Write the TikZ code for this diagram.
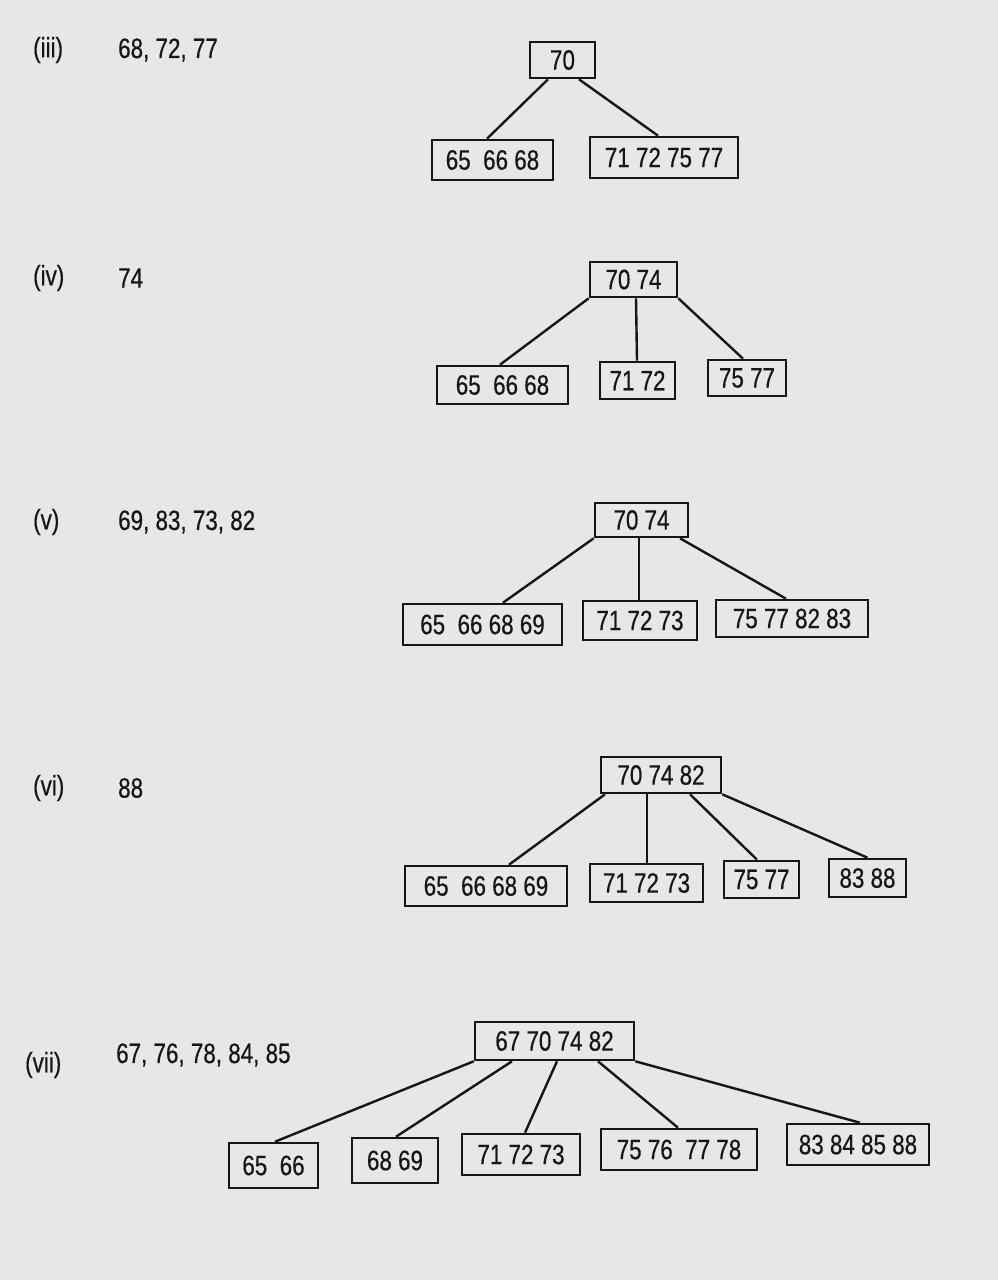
\documentclass[tikz,border=0pt]{standalone}
\usepackage{fontspec}
\setmainfont{Liberation Sans}[FakeStretch=0.8,FakeBold=0.5]
\usetikzlibrary{calc}
\definecolor{paper}{HTML}{E7E7E5}
\definecolor{ink}{HTML}{161616}
\tikzset{
 keybox/.style={draw=ink,line width=2.6pt,inner sep=0pt,text=ink},
 treeline/.style={draw=ink,line width=2.4pt},
 steplabel/.style={anchor=west,inner sep=0pt,text=ink}
}

\begin{document}
\begin{tikzpicture}[x=1pt,y=-1pt,font=\fontsize{28}{30}\selectfont]
 \fill[paper] (0,0) rectangle (998,1280);
 \useasboundingbox (0,0) rectangle (998,1280);

 % (iii)
 \node[steplabel] (l3) at (33,50) {(iii)};
 \node[steplabel] (k3) at (118,50) {68, 72, 77};
 \node[keybox,minimum width=65,minimum height=36] (r3) at (562.5,60) {70};
 \node[keybox,minimum width=121,minimum height=40] (a3) at (492.5,160) {65\ \ 66 68};
 \node[keybox,minimum width=148,minimum height=41] (b3) at (664,157.5) {71 72 75 77};
 \draw[treeline] ([xshift=-14.5]r3.south) -- ([xshift=-5.5]a3.north);
 \draw[treeline] ([xshift=16.5]r3.south) -- ([xshift=-6]b3.north);

 % (iv)
 \node[steplabel] (l4) at (33,278) {(iv)};
 \node[steplabel] (k4) at (118,278) {74};
 \node[keybox,minimum width=87,minimum height=35] (r4) at (633.5,279.5) {70 74};
 \node[keybox,minimum width=131,minimum height=38] (a4) at (502.5,385) {65\ \ 66 68};
 \node[keybox,minimum width=75,minimum height=37] (b4) at (637.5,380.5) {71 72};
 \node[keybox,minimum width=78,minimum height=36] (c4) at (747,378) {75 77};
 \draw[treeline] (r4.south west) -- ([xshift=-2.5]a4.north);
 \draw[treeline] ([xshift=2.5]r4.south) -- ([xshift=-0.5]b4.north);
 \draw[treeline] (r4.south east) -- ([xshift=-4]c4.north);

 % (v)
 \node[steplabel] (l5) at (33,522) {(v)};
 \node[steplabel] (k5) at (118,522) {69, 83, 73, 82};
 \node[keybox,minimum width=93,minimum height=34] (r5) at (641.5,520) {70 74};
 \node[keybox,minimum width=159,minimum height=41] (a5) at (482.5,624.5) {65\ \ 66 68 69};
 \node[keybox,minimum width=114,minimum height=39] (b5) at (640,620.5) {71 72 73};
 \node[keybox,minimum width=152,minimum height=37] (c5) at (792,618.5) {75 77 82 83};
 \draw[treeline] (r5.south west) -- ([xshift=20.5]a5.north);
 \draw[treeline] ([xshift=-2.5]r5.south) -- ([xshift=-1]b5.north);
 \draw[treeline] ([xshift=38.5]r5.south) -- ([xshift=-6]c5.north);

 % (vi)
 \node[steplabel] (l6) at (33,788) {(vi)};
 \node[steplabel] (k6) at (118,788) {88};
 \node[keybox,minimum width=120,minimum height=36] (r6) at (661,775) {70 74 82};
 \node[keybox,minimum width=162,minimum height=40] (a6) at (486,886) {65\ \ 66 68 69};
 \node[keybox,minimum width=113,minimum height=38] (b6) at (646.5,883) {71 72 73};
 \node[keybox,minimum width=75,minimum height=37] (c6) at (761.5,879.5) {75 77};
 \node[keybox,minimum width=77,minimum height=38] (d6) at (867.5,878) {83 88};
 \draw[treeline] ([xshift=-56]r6.south) -- ([xshift=23]a6.north);
 \draw[treeline] ([xshift=-14]r6.south) -- ([xshift=0.5]b6.north);
 \draw[treeline] ([xshift=29]r6.south) -- ([xshift=-4.5]c6.north);
 \draw[treeline] (r6.south east) -- (d6.north);

 % (vii)
 \node[steplabel] (l7) at (25,1065) {(vii)};
 \node[steplabel] (k7) at (116,1055) {67, 76, 78, 84, 85};
 \node[keybox,minimum width=159,minimum height=38] (r7) at (554.5,1041) {67\ 70\ 74\ 82};
 \node[keybox,minimum width=89,minimum height=45] (a7) at (273.5,1165.5) {65\ \ 66};
 \node[keybox,minimum width=86,minimum height=45] (b7) at (395,1160.5) {68\ 69};
 \node[keybox,minimum width=118,minimum height=41] (c7) at (521,1154.5) {71\ 72\ 73};
 \node[keybox,minimum width=156,minimum height=41] (d7) at (679,1149.5) {75 76\ \ 77 78};
 \node[keybox,minimum width=142,minimum height=41] (e7) at (858,1144.5) {83\ 84\ 85 88};
 \draw[treeline] (r7.south west) -- ([xshift=1.5]a7.north);
 \draw[treeline] ([xshift=-42.5]r7.south) -- ([xshift=1]b7.north);
 \draw[treeline] ([xshift=2.5]r7.south) -- ([xshift=4]c7.north);
 \draw[treeline] ([xshift=43.5]r7.south) -- ([xshift=-1]d7.north);
 \draw[treeline] (r7.south east) -- ([xshift=2]e7.north);
\end{tikzpicture}
\end{document}
